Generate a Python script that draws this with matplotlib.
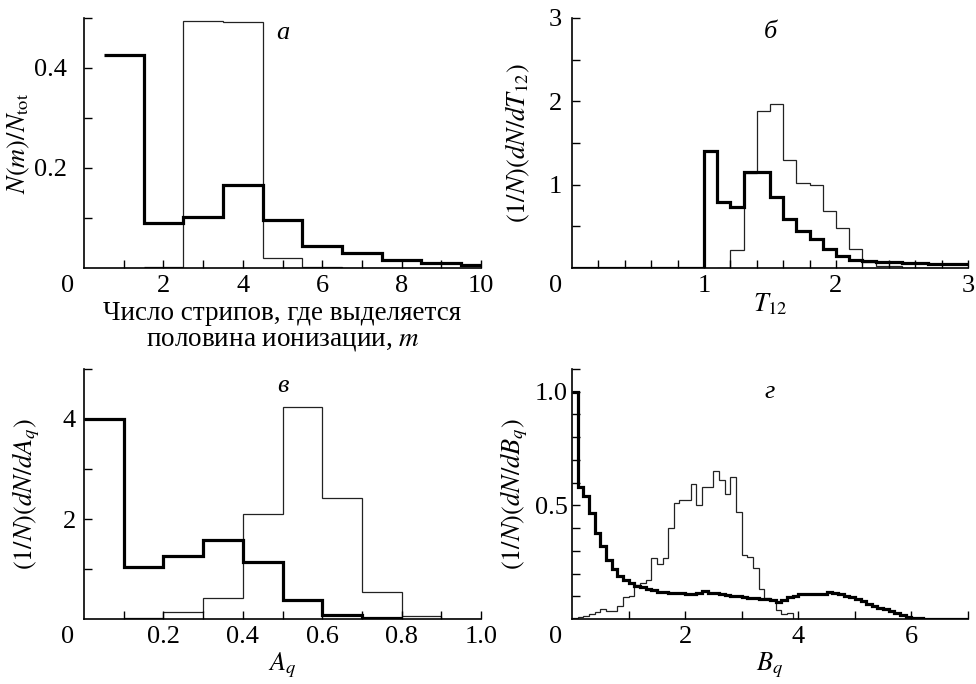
import matplotlib
matplotlib.use("Agg")
import matplotlib.pyplot as plt
import numpy as np

plt.rcParams["font.family"] = ["Liberation Serif", "DejaVu Serif"]
plt.rcParams["mathtext.fontset"] = "stix"

# --- panel a: fraction of events vs number of strips m ---
m_edges = [0.5, 1.5, 2.5, 3.5, 4.5, 5.5, 6.5, 7.5, 8.5, 9.5, 10.0]
m_thick = [0.427, 0.091, 0.103, 0.166, 0.096, 0.044, 0.03, 0.017, 0.011, 0.006]
m_thin_edges = [1.5, 2.5, 3.5, 4.5, 5.5, 6.5, 7.5]
m_thin = [0.002, 0.494, 0.493, 0.021, 0.002, 0.0]

# --- panel б: T12 ---
t_edges = np.round(np.arange(0, 3.01, 0.1), 2)
t_thick = [0] * 10 + [1.41, 0.79, 0.73, 1.15, 1.15, 0.855, 0.585, 0.45, 0.345, 0.23,
                      0.14, 0.10, 0.08, 0.075, 0.07, 0.065, 0.06, 0.05, 0.048, 0.045]
t_thin_edges = np.round(np.arange(1.1, 2.81, 0.1), 2)
t_thin = [0.0, 0.22, 1.14, 1.88, 1.97, 1.30, 1.02, 1.0, 0.68, 0.48, 0.23,
          0.075, 0.02, 0.02, 0.005, 0.0, 0.0]

# --- panel в: A_q ---
a_edges = [0.0, 0.1, 0.2, 0.3, 0.4, 0.5, 0.6, 0.7, 0.8]
a_thick = [4.0, 1.04, 1.27, 1.59, 1.14, 0.375, 0.08, 0.02]
a_thin_edges = [0.1, 0.2, 0.3, 0.4, 0.5, 0.6, 0.7, 0.8, 0.9, 1.0]
a_thin = [0.02, 0.134, 0.42, 2.11, 4.23, 2.43, 0.54, 0.07, 0.0]

# --- panel г: B_q ---
b_edges = np.round(np.arange(0, 7.01, 0.1), 2)
b_thick = [1.0, 0.58, 0.54, 0.465, 0.38, 0.32, 0.26, 0.22, 0.19, 0.17,
           0.158, 0.146, 0.14, 0.132, 0.126, 0.121, 0.118, 0.116, 0.114, 0.113,
           0.112, 0.112, 0.114, 0.122, 0.113, 0.115, 0.11, 0.106, 0.102, 0.1,
           0.097, 0.094, 0.092, 0.09, 0.088, 0.085, 0.075, 0.085, 0.095, 0.1,
           0.108, 0.11, 0.108, 0.11, 0.112, 0.117, 0.113, 0.108, 0.103, 0.096,
           0.088, 0.078, 0.068, 0.058, 0.05, 0.042, 0.035, 0.025, 0.017, 0.01,
           0.005, 0.003, 0.002, 0.001, 0.001, 0, 0, 0, 0, 0]
b_thin_edges = np.round(np.arange(0, 4.01, 0.1), 2)
b_thin = [0.005, 0.008, 0.012, 0.02, 0.03, 0.045, 0.035, 0.035, 0.058, 0.095,
          0.10, 0.15, 0.16, 0.17, 0.27, 0.24, 0.27, 0.40, 0.51, 0.525,
          0.525, 0.595, 0.50, 0.58, 0.58, 0.65, 0.61, 0.55, 0.625, 0.47,
          0.28, 0.275, 0.224, 0.132, 0.092, 0.084, 0.04, 0.02, 0.025, 0.0]

W, H = 976, 684
fig = plt.figure(figsize=(W / 100, H / 100), dpi=100)


def px_axes(x0, x1, y_top, y_bot):
    return fig.add_axes([x0 / W, 1 - y_bot / H, (x1 - x0) / W, (y_bot - y_top) / H])


def style(ax, xlim, ylim, xmaj, xmin, ymaj, ymin, ylabels, ypad):
    ax.set_xlim(*xlim)
    ax.set_ylim(*ylim)
    for s in ["top", "right"]:
        ax.spines[s].set_visible(False)
    for s in ["left", "bottom"]:
        ax.spines[s].set_linewidth(1.2)
    ax.set_xticks(xmaj)
    ax.set_xticks(xmin, minor=True)
    ax.set_yticks(ymaj)
    ax.set_yticklabels(ylabels)
    ax.set_yticks(ymin, minor=True)
    ax.tick_params(which="both", direction="in", length=6, width=1, labelsize=19)
    ax.tick_params(axis="x", which="both", pad=5)
    ax.tick_params(axis="y", which="both", pad=ypad)
    ax.annotate("0", xy=(0, 0), xycoords="axes fraction", xytext=(-11.5, -5),
                textcoords="offset points", ha="center", va="top", fontsize=19)


thick = dict(color="black", lw=2.3, baseline=None)
thin = dict(color="#222222", lw=0.9, baseline=None)

# panel a
ax1 = px_axes(84, 481, 18, 268)
ax1.stairs(m_thin, m_thin_edges, **thin)
ax1.stairs(m_thick, m_edges, **thick)
style(ax1, (0, 10), (0, 0.5), [2, 4, 6, 8, 10], [1, 3, 5, 7, 9],
      [0.2, 0.4], [0.1, 0.3, 0.5], ["0.2", "0.4"], 12.5)
ax1.set_xticklabels(["2", "4", "6", "8", "10"])
ax1.set_ylabel(r"$N(m)/N_{\mathrm{tot}}$", fontsize=19)
ax1.yaxis.set_label_coords(-0.132, 0.5)
ax1.set_xlabel("Число стрипов, где выделяется\nполовина ионизации, $m$",
               fontsize=19.5, linespacing=1.0, labelpad=3)
ax1.text(5.0, 0.47, "а", fontsize=19, style="italic", ha="center", va="center")

# panel б
ax2 = px_axes(572, 968, 18, 268)
ax2.stairs(t_thin, t_thin_edges, **thin)
ax2.stairs(t_thick, t_edges, **thick)
style(ax2, (0, 3), (0, 3), [1, 2, 3], np.round(np.arange(0.2, 3.0, 0.2), 1),
      [1, 2, 3], [0.5, 1.5, 2.5], ["1", "2", "3"], 7)
ax2.set_xticklabels(["1", "2", "3"])
ax2.set_ylabel(r"$(1/N)(dN/dT_{12})$", fontsize=19)
ax2.yaxis.set_label_coords(-0.1, 0.5)
ax2.set_xlabel(r"$T_{12}$", fontsize=19, labelpad=-4)
ax2.text(1.5, 2.83, "б", fontsize=19, style="italic", ha="center", va="center")

# panel в
ax3 = px_axes(84, 481, 369, 619)
ax3.stairs(a_thin, a_thin_edges, **thin)
ax3.stairs(a_thick, a_edges, **thick)
style(ax3, (0, 1.0), (0, 5), [0.2, 0.4, 0.6, 0.8, 1.0], [0.1, 0.3, 0.5, 0.7, 0.9],
      [2, 4], [1, 3, 5], ["2", "4"], 6)
ax3.set_xticklabels(["0.2", "0.4", "0.6", "0.8", "1.0"])
ax3.set_ylabel(r"$(1/N)(dN/dA_q)$", fontsize=19)
ax3.yaxis.set_label_coords(-0.106, 0.5)
ax3.set_xlabel(r"$A_q$", fontsize=19, labelpad=2)
ax3.text(0.5, 4.65, "в", fontsize=19, style="italic", ha="center", va="center")

# panel г
ax4 = px_axes(572, 968, 369, 619)
ax4.stairs(b_thin, b_thin_edges, **thin)
ax4.stairs(b_thick, b_edges, **thick)
style(ax4, (0, 7), (0, 1.1), [2, 4, 6], [1, 3, 5, 7],
      [0.5, 1.0], [0.1, 0.2, 0.3, 0.4, 0.6, 0.7, 0.8, 0.9, 1.1], ["0.5", "1.0"], 3)
ax4.set_xticklabels(["2", "4", "6"])
ax4.set_ylabel(r"$(1/N)(dN/dB_q)$", fontsize=19)
ax4.yaxis.set_label_coords(-0.106, 0.5)
ax4.set_xlabel(r"$B_q$", fontsize=19, labelpad=2)
ax4.text(3.5, 1.0, "г", fontsize=19, style="italic", ha="center", va="center")

fig.savefig("out.png", dpi=100)
